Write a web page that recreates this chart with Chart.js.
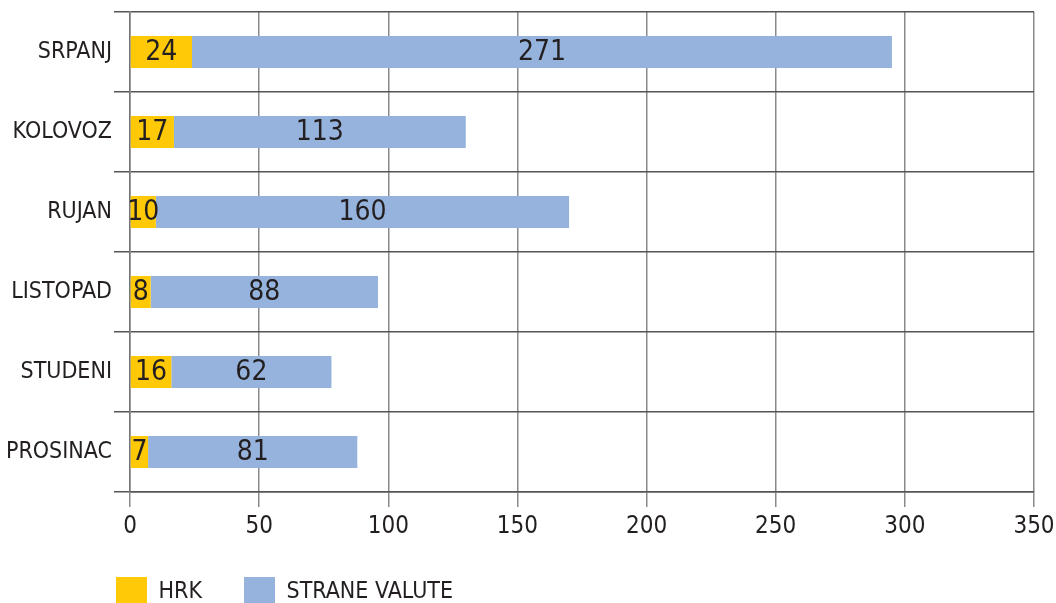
<!DOCTYPE html>
<html>
<head>
<meta charset="utf-8">
<script src="https://cdn.jsdelivr.net/npm/chart.js@4.4.0/dist/chart.umd.min.js"></script>
<style>
html, body { margin: 0; padding: 0; background: #fff; overflow: hidden; }
#wrap { width: 1056px; height: 603px; overflow: hidden; }
</style>
</head>
<body>
<div id="wrap"><canvas id="c" width="1056" height="618"></canvas></div>
<script>
const months = ['SRPANJ', 'KOLOVOZ', 'RUJAN', 'LISTOPAD', 'STUDENI', 'PROSINAC'];
const hrk = [24, 17, 10, 8, 16, 7];
const strane = [271, 113, 160, 88, 62, 81];
const seriesNames = ['HRK', 'STRANE VALUTE'];
const xTicks = [0, 50, 100, 150, 200, 250, 300, 350];

const FONT = "'DejaVu Sans Condensed', 'Liberation Sans Narrow', sans-serif";
Chart.defaults.font.family = FONT;
Chart.defaults.color = '#231f20';

// value labels in the middle of each segment
const segLabels = {
    id: 'segLabels',
    afterDatasetsDraw(chart) {
        const ctx = chart.ctx;
        ctx.save();
        ctx.font = '28px ' + FONT;
        ctx.fillStyle = '#231f20';
        ctx.textAlign = 'center';
        ctx.textBaseline = 'middle';
        chart.data.datasets.forEach((ds, i) => {
            chart.getDatasetMeta(i).data.forEach((bar, j) => {
                ctx.fillText(ds.data[j], (bar.x + bar.base) / 2, bar.y + 1);
            });
        });
        ctx.restore();
    }
};

// legend starts under the y labels, not at the canvas edge
const legendShift = {
    id: 'legendShift',
    afterLayout(chart) {
        chart.legend.left = 74;
    }
};

new Chart(document.getElementById('c'), {
    type: 'bar',
    data: {
        labels: months,
        datasets: [{
            label: seriesNames[0],
            data: hrk,
            backgroundColor: '#ffc907'
        }, {
            label: seriesNames[1],
            data: strane,
            backgroundColor: '#95b3dd'
        }]
    },
    options: {
        indexAxis: 'y',
        responsive: false,
        animation: false,
        barPercentage: 0.4,
        categoryPercentage: 1,
        layout: { padding: 0 },
        plugins: {
            legend: {
                position: 'bottom',
                align: 'start',
                labels: {
                    boxWidth: 31,
                    boxHeight: 31,
                    padding: 42,
                    font: { size: 23 },
                    color: '#231f20'
                }
            },
            tooltip: { enabled: false }
        },
        scales: {
            x: {
                stacked: true,
                min: 0,
                max: 350,
                afterBuildTicks: s => { s.ticks = xTicks.map(v => ({ value: v })); },
                ticks: { font: { size: 24 }, padding: 5 },
                grid: { color: '#8a8a8a', lineWidth: 1.5, tickLength: 15 },
                border: { color: '#555', width: 1.5 },
                afterFit: s => { s.height = 43; s.paddingRight = 22; s.paddingLeft = 0; }
            },
            y: {
                stacked: true,
                ticks: { font: { size: 23 }, padding: 2 },
                grid: { color: '#555', lineWidth: 1.5, tickLength: 16, offset: true },
                border: { color: '#777', width: 1.5 },
                afterFit: s => { s.width = 130; s.paddingTop = 12; s.paddingBottom = 0; }
            }
        }
    },
    plugins: [segLabels, legendShift]
});
</script>
</body>
</html>
